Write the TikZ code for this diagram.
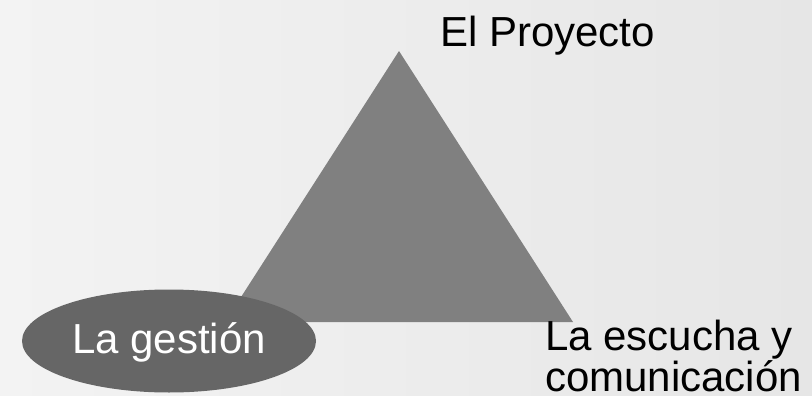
\documentclass[tikz,border=0pt]{standalone}
\usepackage{fontspec}
\setmainfont{Liberation Sans}
\usepackage{tikz}
\usetikzlibrary{positioning, shapes.geometric}

\definecolor{bgleft}{HTML}{F3F3F3}
\definecolor{bgright}{HTML}{E6E6E6}
\definecolor{trigray}{HTML}{808080}
\definecolor{ovalgray}{HTML}{666666}

\begin{document}
\begin{tikzpicture}[
    x=1pt, y=-1pt,
    label/.style={inner sep=0pt, font=\fontsize{42}{39}\selectfont},
    oval/.style={ellipse, fill=ovalgray, text=white, inner sep=0pt,
                 minimum width=294pt, minimum height=103pt,
                 text height=30pt, text depth=6pt,
                 font=\fontsize{42}{40}\selectfont}
]
    % background
    \fill[left color=bgleft, right color=bgright] (0,0) rectangle (812,396);
    \useasboundingbox (0,0) rectangle (812,396);

    % triangle corners
    \coordinate (top)   at (399,51);
    \coordinate (right) at (573,322);
    \coordinate (left)  at (225,322);
    \fill[trigray] (top) -- (right) -- (left) -- cycle;

    \node[label, anchor=base west] (proj) at (440,47) {El Proyecto};
    \node[oval] (gest) at (169,341) {La gestión};
    \node[label, anchor=base west, align=left, text depth=0pt] (esc) at (545,391)
        {La escucha y\\comunicación};
\end{tikzpicture}
\end{document}
